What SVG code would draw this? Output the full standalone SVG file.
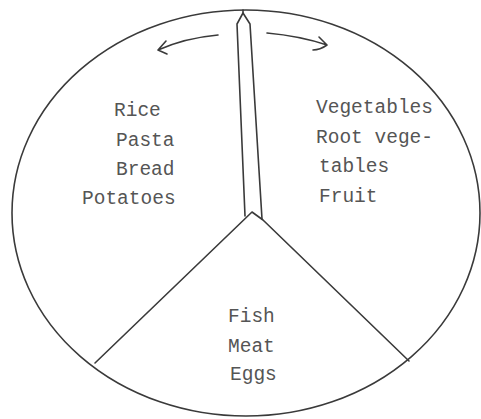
<svg xmlns="http://www.w3.org/2000/svg" width="481" height="419" viewBox="0 0 481 419">
<style>
.ln{fill:none;stroke:#3a3a3a;stroke-width:1.6;stroke-linecap:round;stroke-linejoin:round}
.lb{font-family:"Liberation Mono","Courier New",monospace;font-size:19.5px;fill:#555}
</style>
<rect width="481" height="419" fill="#fff"/>
<g id="pie">
<ellipse class="ln" cx="246" cy="213" rx="234" ry="203"/>
</g>
<g id="connectors">
<path class="ln" d="M95,363 L252,212 L263,220 L409,361"/>
<path class="ln" d="M245,216 L237,24 L243,13 L250,24 L262,219"/>
<path class="ln" d="M243,13 L243,10"/>
<path class="ln" d="M218,35 Q185,38 158,50 M158,50 L166,41 M158,50 L167,54"/>
<path class="ln" d="M267,33 Q300,36 327,45 M327,45 L319,37 M327,45 Q320,50 313,50"/>
</g>
<g id="left">
<text class="lb" x="114" y="116">Rice</text>
<text class="lb" x="116" y="146">Pasta</text>
<text class="lb" x="116" y="175">Bread</text>
<text class="lb" x="82" y="204">Potatoes</text>
</g>
<g id="right">
<text class="lb" x="316" y="113">Vegetables</text>
<text class="lb" x="316" y="143">Root vege-</text>
<text class="lb" x="319" y="172">tables</text>
<text class="lb" x="319" y="202">Fruit</text>
</g>
<g id="bottom">
<text class="lb" x="228" y="322">Fish</text>
<text class="lb" x="228" y="352">Meat</text>
<text class="lb" x="230" y="380">Eggs</text>
</g>
</svg>
